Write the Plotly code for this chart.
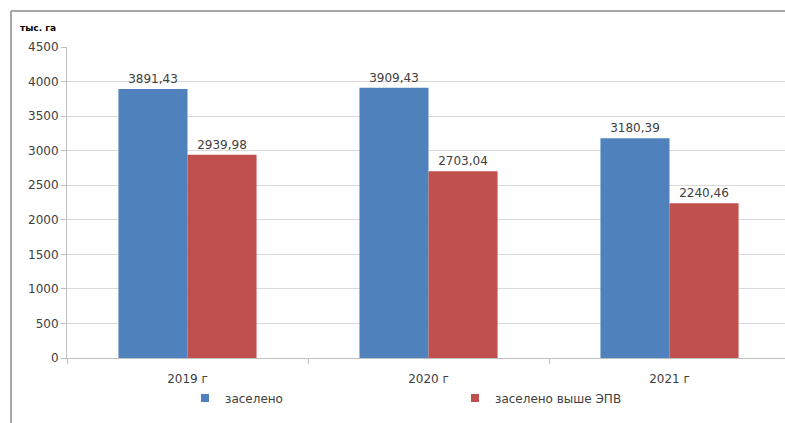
import plotly.graph_objects as go

categories = ["2019 г", "2020 г", "2021 г"]
settled = [3891.43, 3909.43, 3180.39]
settled_above = [2939.98, 2703.04, 2240.46]
series_names = ["заселено", "заселено выше ЭПВ"]
series_colors = ["#4F81BD", "#C0504D"]
y_ticks = [0, 500, 1000, 1500, 2000, 2500, 3000, 3500, 4000, 4500]
unit_label = "тыс. га"

W, H = 785, 423
ml, mr, mt, mb = 67, 0, 47, 65
pw = W - ml - mr
ph = H - mt - mb
FONT = "DejaVu Sans"

def fmt(v):
    return f"{v:.2f}".replace(".", ",")

fig = go.Figure()
for vals, name, col in zip([settled, settled_above], series_names, series_colors):
    fig.add_trace(go.Bar(
        x=categories, y=vals, name=name, showlegend=False,
        marker=dict(color=col, line=dict(width=0)),
        text=[fmt(v) for v in vals], textposition="outside",
        textfont=dict(size=12, color="#404040", family=FONT),
        cliponaxis=False,
    ))
for name, col in zip(series_names, series_colors):
    fig.add_trace(go.Scatter(
        x=[None], y=[None], mode="markers", name=name,
        marker=dict(symbol="square", size=8, color=col),
        showlegend=True,
    ))

def px_x(p):
    return (p - ml) / pw

def px_y(p):
    return (H - mb - p) / ph

shapes = [
    dict(type="line", xref="paper", yref="paper", x0=px_x(11), x1=px_x(11),
         y0=px_y(11), y1=px_y(430), line=dict(color="#A6A6A6", width=2)),
    dict(type="line", xref="paper", yref="paper", x0=px_x(11), x1=px_x(790),
         y0=px_y(11), y1=px_y(11), line=dict(color="#A6A6A6", width=2)),
]

fig.update_layout(
    width=W, height=H,
    margin=dict(l=ml, r=mr, t=mt, b=mb, pad=0, autoexpand=False),
    paper_bgcolor="white", plot_bgcolor="white",
    barmode="group", bargap=0.427, bargroupgap=0,
    font=dict(family=FONT, size=12, color="#404040"),
    shapes=shapes,
    showlegend=True,
    legend=dict(orientation="h", x=px_x(185), y=px_y(398), xanchor="left", yanchor="middle",
                entrywidth=225, entrywidthmode="pixels",
                font=dict(size=12, color="#404040", family=FONT), bgcolor="rgba(0,0,0,0)"),
    annotations=[dict(text="<b>" + unit_label + "</b>", xref="paper", yref="paper",
                      x=px_x(18), y=px_y(28), xanchor="left", yanchor="middle",
                      showarrow=False, font=dict(size=9, color="#000000", family=FONT))],
)
fig.update_xaxes(
    range=[-0.5, -0.5 + pw / 241.0],
    showline=True, linecolor="#BFBFBF", linewidth=1,
    ticks="outside", ticklen=5, tickcolor="#BFBFBF",
    tickson="boundaries", showgrid=False,
    ticklabelstandoff=10,
    tickfont=dict(size=12, color="#404040", family=FONT),
)
fig.update_yaxes(
    range=[0, 4500], tickvals=y_ticks,
    showline=True, linecolor="#BFBFBF", linewidth=1,
    ticks="outside", ticklen=5, tickcolor="#BFBFBF",
    showgrid=True, gridcolor="#D9D9D9", gridwidth=1,
    tickfont=dict(size=12, color="#404040", family=FONT), zeroline=False,
)
fig.write_html("out.html")
